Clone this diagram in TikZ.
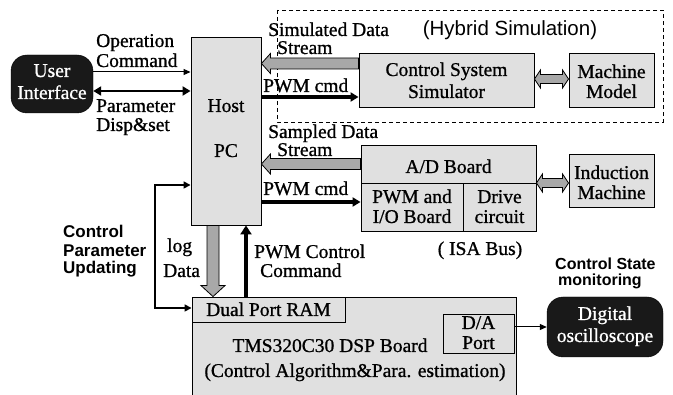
\documentclass[tikz,border=0pt]{standalone}
\usepackage{fontspec}
\setmainfont{Liberation Serif}[FakeBold=0.9]
\setsansfont{Liberation Sans}
\usetikzlibrary{arrows.meta,calc}

\definecolor{boxgray}{gray}{0.88}
\definecolor{fatgray}{gray}{0.66}
\definecolor{ink}{gray}{0.1}

% wide outlined arrow with one head: tip, tail, head length, head half-width, shaft half-width
\newcommand\fatsingle[5]{%
  \draw[fatstyle]
    (#1) -- ($(#1)!#3!(#2)!#4!90:(#2)$) -- ($(#1)!#3!(#2)!#5!90:(#2)$)
    -- ($(#2)!#5!-90:(#1)$) -- ($(#2)!#5!90:(#1)$)
    -- ($(#1)!#3!(#2)!#5!-90:(#2)$) -- ($(#1)!#3!(#2)!#4!-90:(#2)$) -- cycle;}
% wide outlined arrow with heads at both ends
\newcommand\fatdouble[5]{%
  \draw[fatstyle]
    (#1) -- ($(#1)!#3!(#2)!#4!90:(#2)$) -- ($(#1)!#3!(#2)!#5!90:(#2)$)
    -- ($(#2)!#3!(#1)!#5!-90:(#1)$) -- ($(#2)!#3!(#1)!#4!-90:(#1)$) -- (#2)
    -- ($(#2)!#3!(#1)!#4!90:(#1)$) -- ($(#2)!#3!(#1)!#5!90:(#1)$)
    -- ($(#1)!#3!(#2)!#5!-90:(#2)$) -- ($(#1)!#3!(#2)!#4!-90:(#2)$) -- cycle;}

\begin{document}
\begin{tikzpicture}[x=1pt,y=-1pt,
  box/.style={draw=black, line width=0.9pt, fill=boxgray, inner sep=0pt, rectangle},
  blackbox/.style={draw=black, fill=ink, rounded corners=16pt, inner sep=0pt},
  fatstyle/.style={draw=black, line width=0.8pt, fill=fatgray, line join=miter},
  txt/.style={inner sep=0pt, font=\fontsize{19.5}{21}\selectfont},
  lbl/.style={inner sep=0pt, font=\fontsize{19.5}{21}\selectfont},
  wlbl/.style={lbl, text=white},
  sfl/.style={inner sep=0pt, font=\fontsize{17}{19}\sffamily\bfseries\selectfont},
  thin/.style={line width=1pt, -{Triangle[length=7pt,width=6pt]}},
  heavy/.style={line width=3.5pt, -{Triangle[length=8pt,width=9pt]}},
]
\useasboundingbox (0,0) rectangle (673,395);
\fill[white] (0,0) rectangle (673,395);

% hybrid simulation frame
\draw[line width=0.9pt, dash pattern=on 4pt off 3pt] (277,10) rectangle (663,122);
\node[inner sep=0pt, font=\fontsize{20.5}{22}\sffamily\selectfont, anchor=base] (hyb) at (510,36) {(Hybrid Simulation)};

% blocks
\node[box, minimum width=70pt, minimum height=188pt] (host) at (226,131) {};
\node[box, minimum width=175pt, minimum height=54pt] (css) at (446.5,80) {};
\node[box, minimum width=85pt, minimum height=54pt] (mm) at (611.5,80) {};
\node[box, minimum width=175pt, minimum height=38pt] (ad) at (448.5,164) {};
\node[box, minimum width=102pt, minimum height=48pt] (pwmio) at (412,207) {};
\node[box, minimum width=73pt, minimum height=48pt] (drv) at (499.5,207) {};
\node[box, minimum width=85pt, minimum height=53pt] (im) at (611.5,180.5) {};
\node[box, minimum width=324pt, minimum height=113pt] (dsp) at (354,353.5) {};
\node[box, minimum width=153pt, minimum height=25pt] (dpr) at (268.5,309.5) {};
\node[box, minimum width=71pt, minimum height=39pt] (da) at (478.5,333.5) {};
\node[blackbox, minimum width=82pt, minimum height=58pt] (ui) at (52,84) {};
\node[blackbox, minimum width=116pt, minimum height=60pt] (osc) at (605,327) {};

% block texts
\node[wlbl, anchor=base] (uit1) at (52,77) {User};
\node[wlbl, anchor=base] (uit2) at (52,99) {Interface};
\node[lbl, anchor=base] (hostt1) at (226,112) {Host};
\node[lbl, anchor=base] (hostt2) at (226,157) {PC};
\node[txt, anchor=base] (csst1) at (446.5,76) {Control System};
\node[txt, anchor=base] (csst2) at (446.5,98) {Simulator};
\node[txt, anchor=base] (mmt1) at (611.5,78) {Machine};
\node[txt, anchor=base] (mmt2) at (611.5,98) {Model};
\node[txt, anchor=base] (adt) at (448.5,173) {A/D Board};
\node[txt, anchor=base] (pwmt1) at (412,203) {PWM and};
\node[txt, anchor=base] (pwmt2) at (412,223) {I/O Board};
\node[txt, anchor=base] (drvt1) at (499.5,203) {Drive};
\node[txt, anchor=base] (drvt2) at (499.5,223) {circuit};
\node[txt, anchor=base] (imt1) at (611.5,179) {Induction};
\node[txt, anchor=base] (imt2) at (611.5,199) {Machine};
\node[txt, anchor=base] (isa) at (480,255) {( ISA Bus)};
\node[txt, anchor=base] (dprt) at (268.5,316) {Dual Port RAM};
\node[txt, anchor=base] (dspt1) at (330,352) {TMS320C30 DSP Board};
\node[txt, anchor=base] (dspt2) at (355,377) {(Control Algorithm\&Para. estimation)};
\node[txt, anchor=base] (dat1) at (478.5,329) {D/A};
\node[txt, anchor=base] (dat2) at (478.5,349) {Port};
\node[wlbl, anchor=base] (osct1) at (605,320) {Digital};
\node[wlbl, anchor=base] (osct2) at (605,342) {oscilloscope};

% connector labels
\node[lbl, anchor=base west] (opl1) at (96,47) {Operation};
\node[lbl, anchor=base west] (opl2) at (96,67) {Command};
\node[lbl, anchor=base west] (pdl1) at (96,112) {Parameter};
\node[lbl, anchor=base west] (pdl2) at (96,131) {Disp\&set};
\node[lbl, anchor=base west] (siml1) at (268,36) {Simulated Data};
\node[lbl, anchor=base west] (siml2) at (277,54) {Stream};
\node[lbl, anchor=base west] (pwml1) at (263,92) {PWM cmd};
\node[lbl, anchor=base west] (saml1) at (268,138) {Sampled Data};
\node[lbl, anchor=base west] (saml2) at (277,156) {Stream};
\node[lbl, anchor=base west] (pwml2) at (263,195) {PWM cmd};
\node[sfl, anchor=base west] (cpl1) at (63,238) {Control};
\node[sfl, anchor=base west] (cpl2) at (63,257) {Parameter};
\node[sfl, anchor=base west] (cpl3) at (63,274) {Updating};
\node[lbl, anchor=base west] (logl1) at (167,252) {log};
\node[lbl, anchor=base west] (logl2) at (163,277) {Data};
\node[lbl, anchor=base west] (pccl1) at (254,258) {PWM Control};
\node[lbl, anchor=base west] (pccl2) at (260,277) {Command};
\node[sfl, font=\fontsize{16}{18}\sffamily\bfseries\selectfont, anchor=base west] (csml1) at (555,270) {Control State};
\node[sfl, font=\fontsize{16}{18}\sffamily\bfseries\selectfont, anchor=base west] (csml2) at (558,286) {monitoring};

% connector end points
\coordinate (opA) at (ui.east |- 0,72);   \coordinate (opB) at (host.west |- 0,72);
\coordinate (pdA) at (ui.east |- 0,91);   \coordinate (pdB) at (host.west |- 0,91);
\coordinate (simTip) at (host.east |- 0,63.5); \coordinate (simTail) at (css.west |- 0,63.5);
\coordinate (pw1A) at (host.east |- 0,97); \coordinate (pw1B) at (css.west |- 0,97);
\coordinate (cmA) at (css.east |- 0,79);  \coordinate (cmB) at (mm.west |- 0,79);
\coordinate (samTip) at (host.east |- 0,164); \coordinate (samTail) at (ad.west |- 0,164);
\coordinate (pw2A) at (host.east |- 0,202); \coordinate (pw2B) at (pwmio.west |- 0,202);
\coordinate (aiA) at (ad.east |- 0,183);  \coordinate (aiB) at (im.west |- 0,183);
\coordinate (cpA) at (host.west |- 0,185); \coordinate (cpB) at (dpr.west |- 0,308);
\coordinate (cpK1) at (155,185); \coordinate (cpK2) at (155,308);
\coordinate (logTail) at (host.south -| 213,0); \coordinate (logTip) at (dpr.north -| 213,0);
\coordinate (pccA) at (dpr.north -| 246,0); \coordinate (pccB) at (host.south -| 246,0);
\coordinate (daA) at (da.east |- 0,327); \coordinate (daB) at (osc.west |- 0,327);

% connectors
\draw[thin] (opA) -- (opB);
\draw[line width=2.2pt, {Triangle[length=8pt,width=9pt]}-{Triangle[length=8pt,width=9pt]}] (pdA) -- (pdB);
\fatsingle{simTip}{simTail}{9pt}{10pt}{5.5pt}
\draw[heavy] (pw1A) -- (pw1B);
\fatdouble{cmA}{cmB}{6pt}{9pt}{4.5pt}
\fatsingle{samTip}{samTail}{9pt}{10pt}{5.5pt}
\draw[heavy] (pw2A) -- (pw2B);
\fatdouble{aiA}{aiB}{6pt}{9pt}{4.5pt}
\draw[line width=1.6pt, {Triangle[length=7pt,width=7pt]}-{Triangle[length=7pt,width=7pt]}]
  (cpA) -- (cpK1) -- (cpK2) -- (cpB);
\fatsingle{logTip}{logTail}{11pt}{12pt}{6pt}
\draw[line width=4.5pt, -{Triangle[length=9pt,width=11pt]}] (pccA) -- (pccB);
\draw[thin] (daA) -- (daB);
\end{tikzpicture}
\end{document}
